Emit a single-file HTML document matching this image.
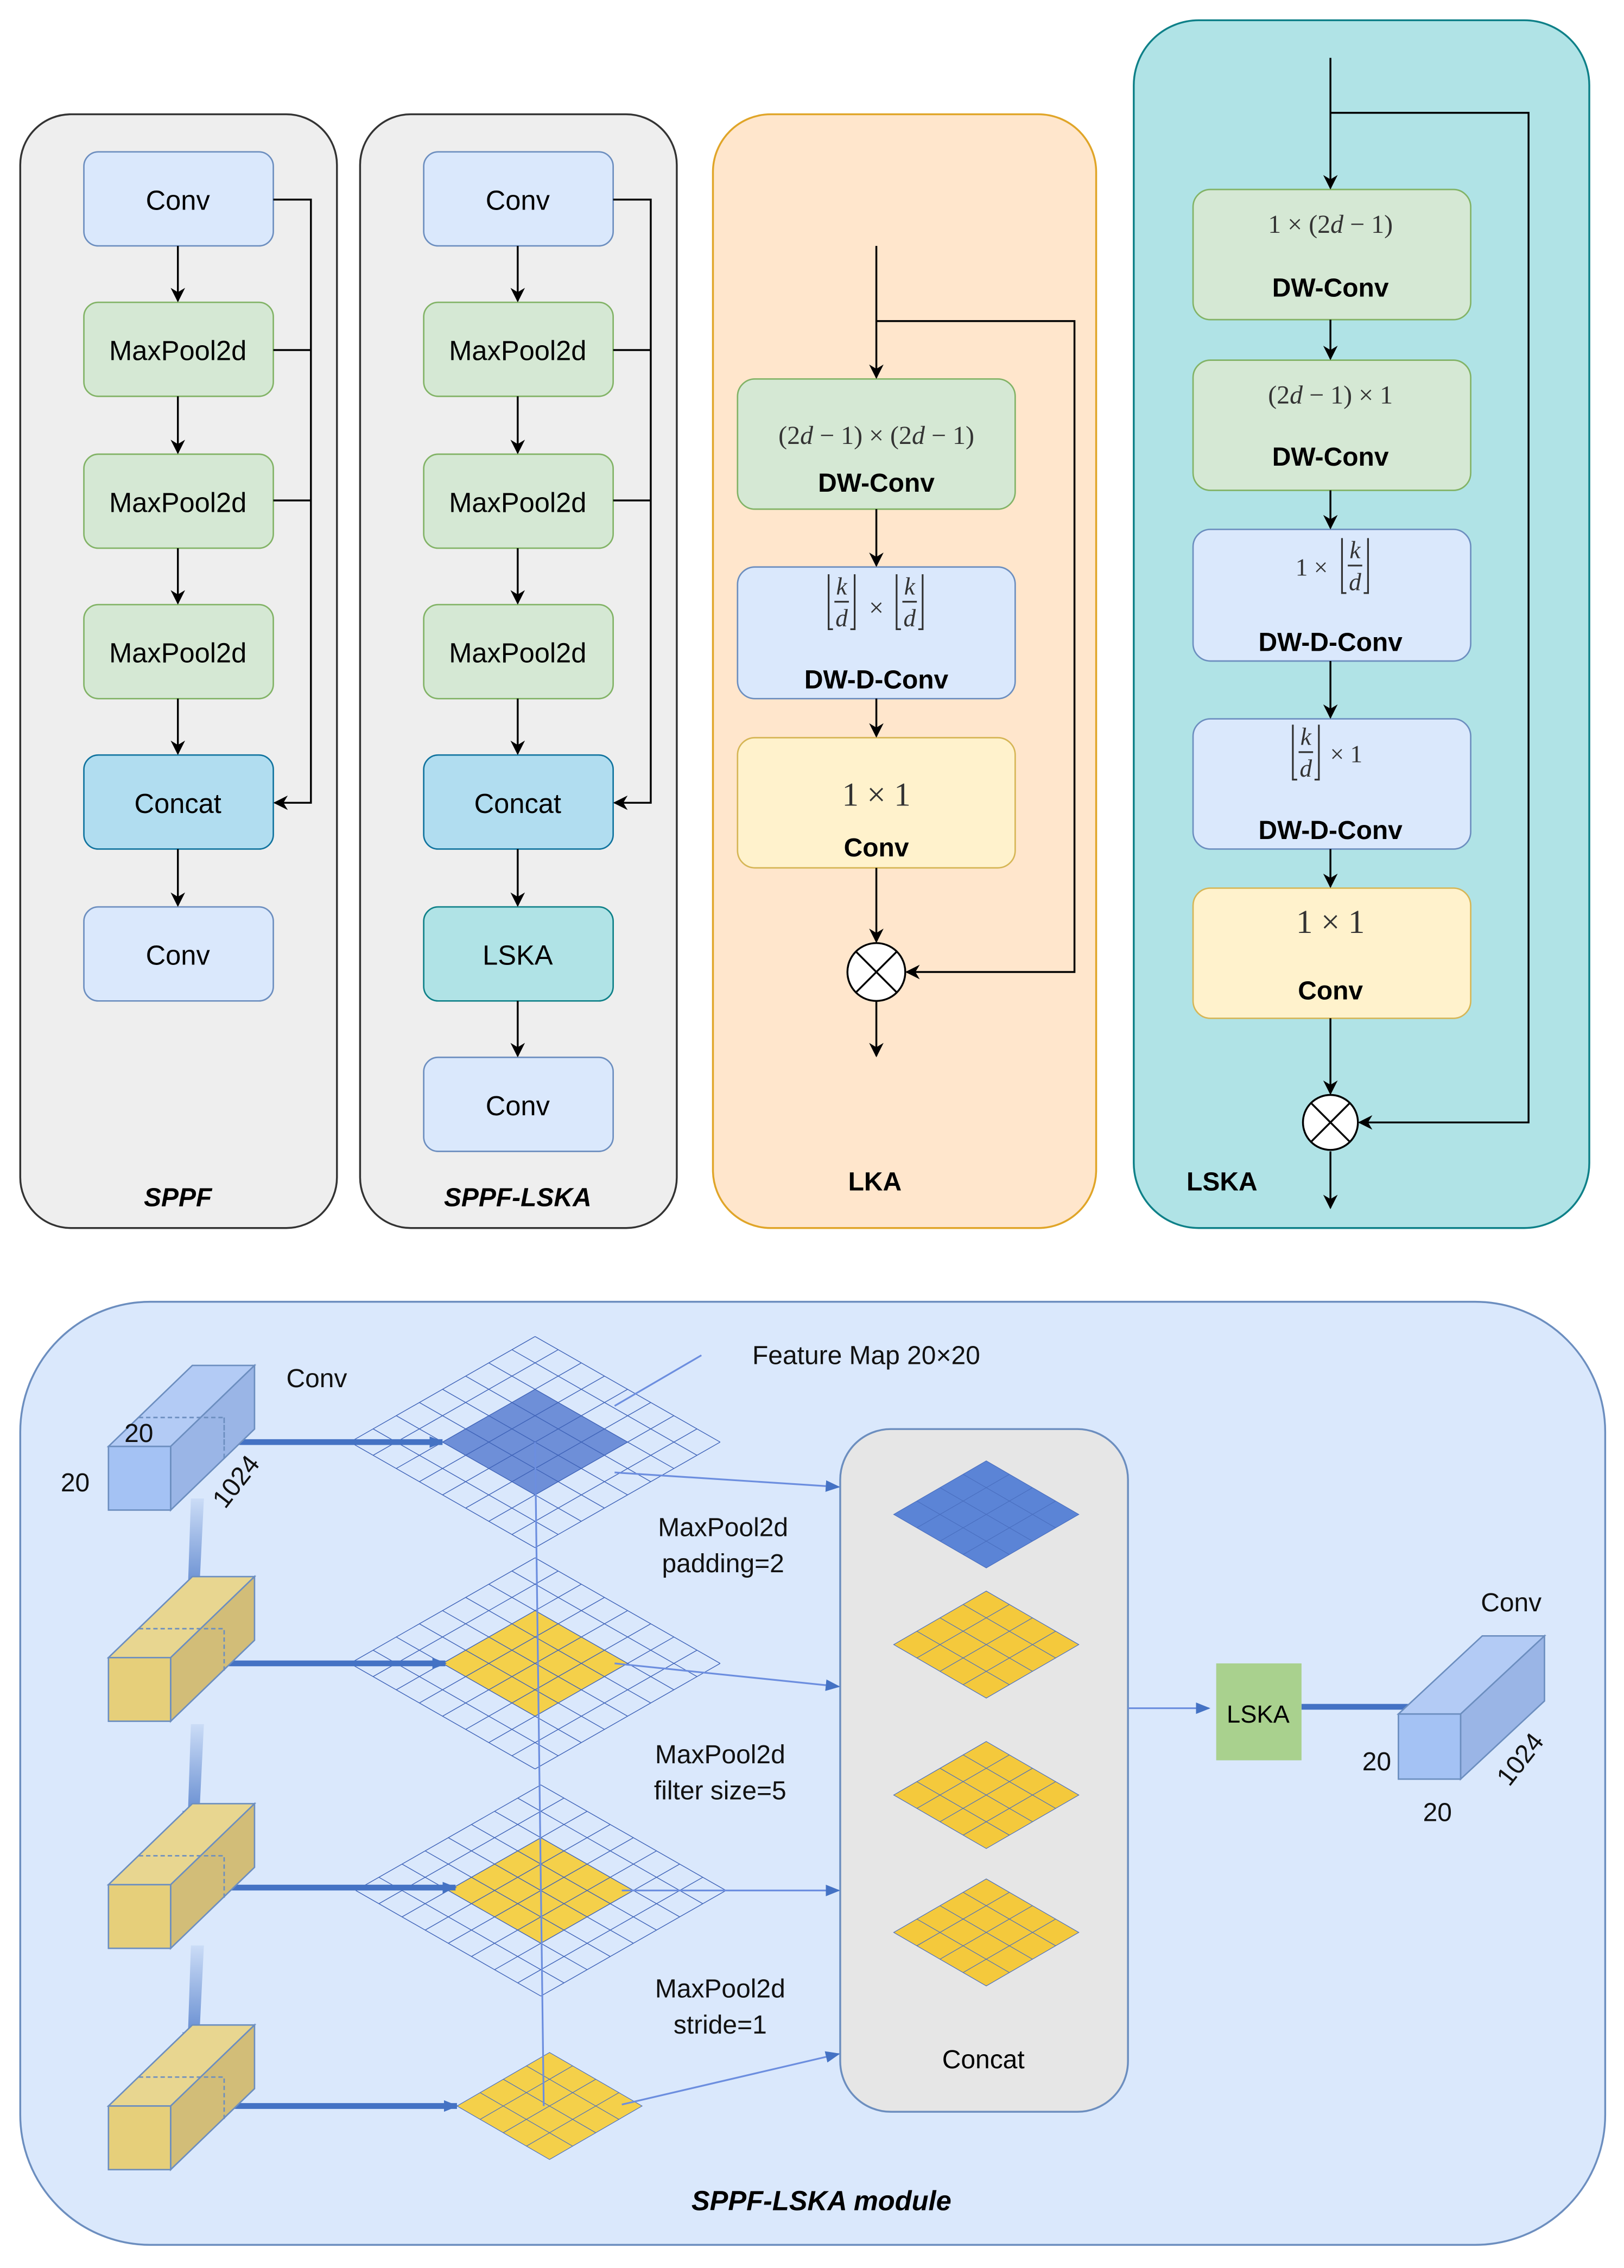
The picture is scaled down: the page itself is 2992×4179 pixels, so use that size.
<!DOCTYPE html>
<html><head><meta charset="utf-8"><style>
html,body{margin:0;padding:0;background:#fff}
svg{display:block}
text{font-family:"Liberation Sans",sans-serif}
.m{font-family:"Liberation Serif",serif;fill:#333}
</style></head><body>
<svg width="2992" height="4179" viewBox="0 0 1123 1568" preserveAspectRatio="none" xmlns="http://www.w3.org/2000/svg">
<defs>
<marker id="ah" markerWidth="10" markerHeight="10" refX="9" refY="5" orient="auto" markerUnits="userSpaceOnUse"><path d="M0,0 L10,5 L0,10 L3,5 z" fill="#000"/></marker>
<marker id="bh" markerWidth="10" markerHeight="10" refX="9" refY="5" orient="auto" markerUnits="userSpaceOnUse"><path d="M0,1 L10,5 L0,9 z" fill="#4472c4"/></marker>
<g id="g8" fill="none" stroke="#3f63b8" stroke-width="1.4">
<path vector-effect="non-scaling-stroke" d="M0,0H1M0,.125H1M0,.25H1M0,.375H1M0,.5H1M0,.625H1M0,.75H1M0,.875H1M0,1H1M0,0V1M.125,0V1M.25,0V1M.375,0V1M.5,0V1M.625,0V1M.75,0V1M.875,0V1M1,0V1"/>
</g>
<g id="g4" stroke="#4a6fc0" stroke-width="1.2">
<path vector-effect="non-scaling-stroke" d="M0,.25H1M0,.5H1M0,.75H1M.25,0V1M.5,0V1M.75,0V1"/>
<rect vector-effect="non-scaling-stroke" x="0" y="0" width="1" height="1" fill="none"/>
</g>
<linearGradient id="dg" x1="0" y1="0" x2="0" y2="1"><stop offset="0" stop-color="#4472c4" stop-opacity="0.1"/><stop offset="1" stop-color="#4472c4" stop-opacity="0.9"/></linearGradient>
</defs>
<rect width="1123" height="1568" fill="#fff"/>

<!-- SPPF -->
<rect x="14" y="79" width="219" height="770" rx="35" fill="#eeeeee" stroke="#333" stroke-width="1.3"/>
<g font-size="19" text-anchor="middle">
<rect x="58" y="105" width="131" height="65" rx="10" fill="#dae8fc" stroke="#6c8ebf"/><text x="123" y="145">Conv</text>
<rect x="58" y="209" width="131" height="65" rx="10" fill="#d5e8d4" stroke="#82b366"/><text x="123" y="249">MaxPool2d</text>
<rect x="58" y="314" width="131" height="65" rx="10" fill="#d5e8d4" stroke="#82b366"/><text x="123" y="354">MaxPool2d</text>
<rect x="58" y="418" width="131" height="65" rx="10" fill="#d5e8d4" stroke="#82b366"/><text x="123" y="458">MaxPool2d</text>
<rect x="58" y="522" width="131" height="65" rx="10" fill="#b1ddf0" stroke="#10739e"/><text x="123" y="562">Concat</text>
<rect x="58" y="627" width="131" height="65" rx="10" fill="#dae8fc" stroke="#6c8ebf"/><text x="123" y="667">Conv</text>
</g>
<g stroke="#000" stroke-width="1.3" fill="none" marker-end="url(#ah)">
<path d="M123,170V208"/><path d="M123,274V313"/><path d="M123,379V417"/><path d="M123,483V521"/><path d="M123,587V626"/>
<path d="M189,138H215V555H190"/>
</g>
<path d="M189,242H215M189,346H215" stroke="#000" stroke-width="1.3"/>
<text x="123" y="834" font-size="18" font-weight="bold" font-style="italic" text-anchor="middle">SPPF</text>

<!-- SPPF-LSKA -->
<rect x="249" y="79" width="219" height="770" rx="35" fill="#eeeeee" stroke="#333" stroke-width="1.3"/>
<g font-size="19" text-anchor="middle">
<rect x="293" y="105" width="131" height="65" rx="10" fill="#dae8fc" stroke="#6c8ebf"/><text x="358" y="145">Conv</text>
<rect x="293" y="209" width="131" height="65" rx="10" fill="#d5e8d4" stroke="#82b366"/><text x="358" y="249">MaxPool2d</text>
<rect x="293" y="314" width="131" height="65" rx="10" fill="#d5e8d4" stroke="#82b366"/><text x="358" y="354">MaxPool2d</text>
<rect x="293" y="418" width="131" height="65" rx="10" fill="#d5e8d4" stroke="#82b366"/><text x="358" y="458">MaxPool2d</text>
<rect x="293" y="522" width="131" height="65" rx="10" fill="#b1ddf0" stroke="#10739e"/><text x="358" y="562">Concat</text>
<rect x="293" y="627" width="131" height="65" rx="10" fill="#b0e3e6" stroke="#0e8088"/><text x="358" y="667">LSKA</text>
<rect x="293" y="731" width="131" height="65" rx="10" fill="#dae8fc" stroke="#6c8ebf"/><text x="358" y="771">Conv</text>
</g>
<g stroke="#000" stroke-width="1.3" fill="none" marker-end="url(#ah)">
<path d="M358,170V208"/><path d="M358,274V313"/><path d="M358,379V417"/><path d="M358,483V521"/><path d="M358,587V626"/><path d="M358,692V730"/>
<path d="M424,138H450V555H425"/>
</g>
<path d="M424,242H450M424,346H450" stroke="#000" stroke-width="1.3"/>
<text x="358" y="834" font-size="18" font-weight="bold" font-style="italic" text-anchor="middle">SPPF-LSKA</text>

<!-- LKA -->
<rect x="493" y="79" width="265" height="770" rx="40" fill="#ffe6cc" stroke="#e0a528" stroke-width="1.3"/>
<rect x="510" y="262" width="192" height="90" rx="12" fill="#d5e8d4" stroke="#82b366"/>
<text class="m" x="606" y="307" font-size="18" text-anchor="middle">(2<tspan font-style="italic">d</tspan> − 1) × (2<tspan font-style="italic">d</tspan> − 1)</text>
<text x="606" y="340" font-size="18" font-weight="bold" text-anchor="middle">DW-Conv</text>
<rect x="510" y="392" width="192" height="91" rx="12" fill="#dae8fc" stroke="#6c8ebf"/>
<g class="m" font-size="17" text-anchor="middle" font-style="italic">
<text x="582" y="411" class="m">k</text><text x="582" y="433" class="m">d</text>
<text x="629" y="411" class="m">k</text><text x="629" y="433" class="m">d</text>
</g>
<text class="m" x="606" y="426" font-size="18" text-anchor="middle">×</text>
<path d="M577,416H587M624,416H634M573,397V435H576M591,397V435H588M620,397V435H623M638,397V435H635" stroke="#333" stroke-width="1.2" fill="none"/>
<text x="606" y="476" font-size="18" font-weight="bold" text-anchor="middle">DW-D-Conv</text>
<rect x="510" y="510" width="192" height="90" rx="12" fill="#fff2cc" stroke="#d6b656"/>
<text class="m" x="606" y="557" font-size="23" text-anchor="middle">1 × 1</text>
<text x="606" y="592" font-size="18" font-weight="bold" text-anchor="middle">Conv</text>
<g stroke="#000" stroke-width="1.3" fill="none" marker-end="url(#ah)">
<path d="M606,170V261"/><path d="M606,352V391"/><path d="M606,483V509"/><path d="M606,600V651"/>
<path d="M606,222H743V672H627"/><path d="M606,692V730"/>
</g>
<circle cx="606" cy="672" r="20" fill="#fff" stroke="#000" stroke-width="1.3"/>
<path d="M592,658L620,686M620,658L592,686" stroke="#000" stroke-width="1.3"/>
<text x="605" y="823" font-size="18" font-weight="bold" text-anchor="middle">LKA</text>

<!-- LSKA -->
<rect x="784" y="14" width="315" height="835" rx="45" fill="#b0e3e6" stroke="#0e8088" stroke-width="1.3"/>
<rect x="825" y="131" width="192" height="90" rx="12" fill="#d5e8d4" stroke="#82b366"/>
<text class="m" x="920" y="161" font-size="18" text-anchor="middle">1 × (2<tspan font-style="italic">d</tspan> − 1)</text>
<text x="920" y="205" font-size="18" font-weight="bold" text-anchor="middle">DW-Conv</text>
<rect x="825" y="249" width="192" height="90" rx="12" fill="#d5e8d4" stroke="#82b366"/>
<text class="m" x="920" y="279" font-size="18" text-anchor="middle">(2<tspan font-style="italic">d</tspan> − 1) × 1</text>
<text x="920" y="322" font-size="18" font-weight="bold" text-anchor="middle">DW-Conv</text>
<rect x="825" y="366" width="192" height="91" rx="12" fill="#dae8fc" stroke="#6c8ebf"/>
<text class="m" x="907" y="398" font-size="17" text-anchor="middle">1 ×</text>
<text class="m" x="937" y="386" font-size="17" font-style="italic" text-anchor="middle">k</text>
<text class="m" x="937" y="408" font-size="17" font-style="italic" text-anchor="middle">d</text>
<path d="M932,391H942M928,372V410H931M946,372V410H943" stroke="#333" stroke-width="1.2" fill="none"/>
<text x="920" y="450" font-size="18" font-weight="bold" text-anchor="middle">DW-D-Conv</text>
<rect x="825" y="497" width="192" height="90" rx="12" fill="#dae8fc" stroke="#6c8ebf"/>
<text class="m" x="903" y="515" font-size="17" font-style="italic" text-anchor="middle">k</text>
<text class="m" x="903" y="537" font-size="17" font-style="italic" text-anchor="middle">d</text>
<path d="M898,520H908M894,501V539H897M912,501V539H909" stroke="#333" stroke-width="1.2" fill="none"/>
<text class="m" x="931" y="527" font-size="17" text-anchor="middle">× 1</text>
<text x="920" y="580" font-size="18" font-weight="bold" text-anchor="middle">DW-D-Conv</text>
<rect x="825" y="614" width="192" height="90" rx="12" fill="#fff2cc" stroke="#d6b656"/>
<text class="m" x="920" y="645" font-size="23" text-anchor="middle">1 × 1</text>
<text x="920" y="691" font-size="18" font-weight="bold" text-anchor="middle">Conv</text>
<g stroke="#000" stroke-width="1.3" fill="none" marker-end="url(#ah)">
<path d="M920,40V130"/><path d="M920,221V248"/><path d="M920,339V365"/><path d="M920,457V496"/><path d="M920,587V613"/><path d="M920,704V756"/>
<path d="M920,78H1057V776H940"/><path d="M920,796V835"/>
</g>
<circle cx="920" cy="776" r="19" fill="#fff" stroke="#000" stroke-width="1.3"/>
<path d="M907,763L933,789M933,763L907,789" stroke="#000" stroke-width="1.3"/>
<text x="845" y="823" font-size="18" font-weight="bold" text-anchor="middle">LSKA</text>

<!-- Bottom module -->
<rect x="14" y="900" width="1096" height="652" rx="90" fill="#dae8fc" stroke="#6c8ebf" stroke-width="1.3"/>
<rect x="581" y="988" width="199" height="472" rx="35" fill="#e6e6e6" stroke="#6c8ebf" stroke-width="1.3"/>
<text x="680" y="1430" font-size="18" text-anchor="middle">Concat</text>

<!-- grids -->
<g>
<g transform="matrix(128,73,-128,73,370,924)">
<rect x=".25" y=".25" width=".5" height=".5" fill="#4a72cc" opacity="0.75"/>
<use href="#g8"/></g>
<g transform="matrix(128,73,-128,73,370,1077)">
<rect x=".25" y=".25" width=".5" height=".5" fill="#f4d04a"/>
<use href="#g8"/></g>
<g transform="matrix(128,73,-128,73,374,1234)">
<rect x=".25" y=".25" width=".5" height=".5" fill="#f4d04a"/>
<use href="#g8"/></g>
<g transform="matrix(64,37,-64,37,380,1419)">
<rect x="0" y="0" width="1" height="1" fill="#f4d04a"/>
<use href="#g4"/></g>
<g transform="matrix(64,37,-64,37,682,1010)">
<rect x="0" y="0" width="1" height="1" fill="#5b84d6"/>
<use href="#g4"/></g>
<g transform="matrix(64,37,-64,37,682,1100)">
<rect x="0" y="0" width="1" height="1" fill="#f4c93c"/>
<use href="#g4"/></g>
<g transform="matrix(64,37,-64,37,682,1204)">
<rect x="0" y="0" width="1" height="1" fill="#f4c93c"/>
<use href="#g4"/></g>
<g transform="matrix(64,37,-64,37,682,1299)">
<rect x="0" y="0" width="1" height="1" fill="#f4c93c"/>
<use href="#g4"/></g>
</g>
<!-- thin connectors -->
<g stroke="#6c8edf" stroke-width="1.2" fill="none">
<path d="M370,997L376,1456"/>
<path d="M485,937L425,972"/>
</g>
<g stroke="#6c8edf" stroke-width="1.2" fill="none" marker-end="url(#bh)">
<path d="M425,1018L580,1028"/>
<path d="M425,1150L580,1166"/>
<path d="M430,1307L580,1307"/>
<path d="M430,1455L580,1420"/>
<path d="M780,1181L836,1181"/>
</g>
<!-- thick arrows -->
<g stroke="#4472c4" stroke-width="4" fill="none" marker-end="url(#bh)">
<path d="M145,997H306"/><path d="M145,1150H308"/><path d="M145,1305H315"/><path d="M145,1456H316"/><path d="M900,1180H985"/>
</g>
<!-- down gradient arrows -->
<g fill="url(#dg)">
<path d="M132,1036L141,1036L138,1096L142,1096L134,1110L126,1096L130,1096Z"/>
<path d="M132,1192L141,1192L138,1252L142,1252L134,1266L126,1252L130,1252Z"/>
<path d="M132,1345L141,1345L138,1405L142,1405L134,1419L126,1405L130,1405Z"/>
</g>
<!-- cubes -->
<g stroke="#6c8ebf" stroke-width="1">
<path d="M75,1000L133,944H176L118,1000Z" fill="#b3cbf5"/>
<path d="M118,1000L176,944V988L118,1044Z" fill="#9ab5e6"/>
<rect x="75" y="1000" width="43" height="44" fill="#a4c2f4"/>
<path d="M96,980H155V1000M155,980V1010" fill="none" stroke-dasharray="3,2"/>
</g>
<g stroke="#6c8ebf" stroke-width="1">
<path d="M75,1146L133,1090H176L118,1146Z" fill="#e8d690"/>
<path d="M118,1146L176,1090V1134L118,1190Z" fill="#d2bd78"/>
<rect x="75" y="1146" width="43" height="44" fill="#e6cf7a"/>
<path d="M96,1126H155V1156" fill="none" stroke-dasharray="3,2"/>
</g>
<g stroke="#6c8ebf" stroke-width="1">
<path d="M75,1303L133,1247H176L118,1303Z" fill="#e8d690"/>
<path d="M118,1303L176,1247V1291L118,1347Z" fill="#d2bd78"/>
<rect x="75" y="1303" width="43" height="44" fill="#e6cf7a"/>
<path d="M96,1283H155V1313" fill="none" stroke-dasharray="3,2"/>
</g>
<g stroke="#6c8ebf" stroke-width="1">
<path d="M75,1456L133,1400H176L118,1456Z" fill="#e8d690"/>
<path d="M118,1456L176,1400V1444L118,1500Z" fill="#d2bd78"/>
<rect x="75" y="1456" width="43" height="44" fill="#e6cf7a"/>
<path d="M96,1436H155V1466" fill="none" stroke-dasharray="3,2"/>
</g>
<g stroke="#6c8ebf" stroke-width="1">
<path d="M967,1185L1025,1131H1068L1010,1185Z" fill="#b3cbf5"/>
<path d="M1010,1185L1068,1131V1176L1010,1230Z" fill="#9ab5e6"/>
<rect x="967" y="1185" width="43" height="45" fill="#a4c2f4"/>
</g>
<rect x="841" y="1150" width="59" height="67" fill="#a9d18e"/>
<text x="870" y="1191" font-size="17" text-anchor="middle">LSKA</text>

<g font-size="18" fill="#111" text-anchor="middle">
<text x="219" y="959">Conv</text>
<text x="96" y="997">20</text>
<text x="52" y="1031">20</text>
<text x="0" y="0" transform="translate(168,1028) rotate(-52)">1024</text>
<text x="599" y="943">Feature Map 20×20</text>
<text x="500" y="1062">MaxPool2d</text>
<text x="500" y="1087">padding=2</text>
<text x="498" y="1219">MaxPool2d</text>
<text x="498" y="1244">filter size=5</text>
<text x="498" y="1381">MaxPool2d</text>
<text x="498" y="1406">stride=1</text>
<text x="1045" y="1114">Conv</text>
<text x="952" y="1224">20</text>
<text x="994" y="1259">20</text>
<text x="0" y="0" transform="translate(1056,1220) rotate(-52)">1024</text>
</g>
<text x="568" y="1528" font-size="19" font-weight="bold" font-style="italic" text-anchor="middle">SPPF-LSKA module</text>
</svg>
</body></html>
